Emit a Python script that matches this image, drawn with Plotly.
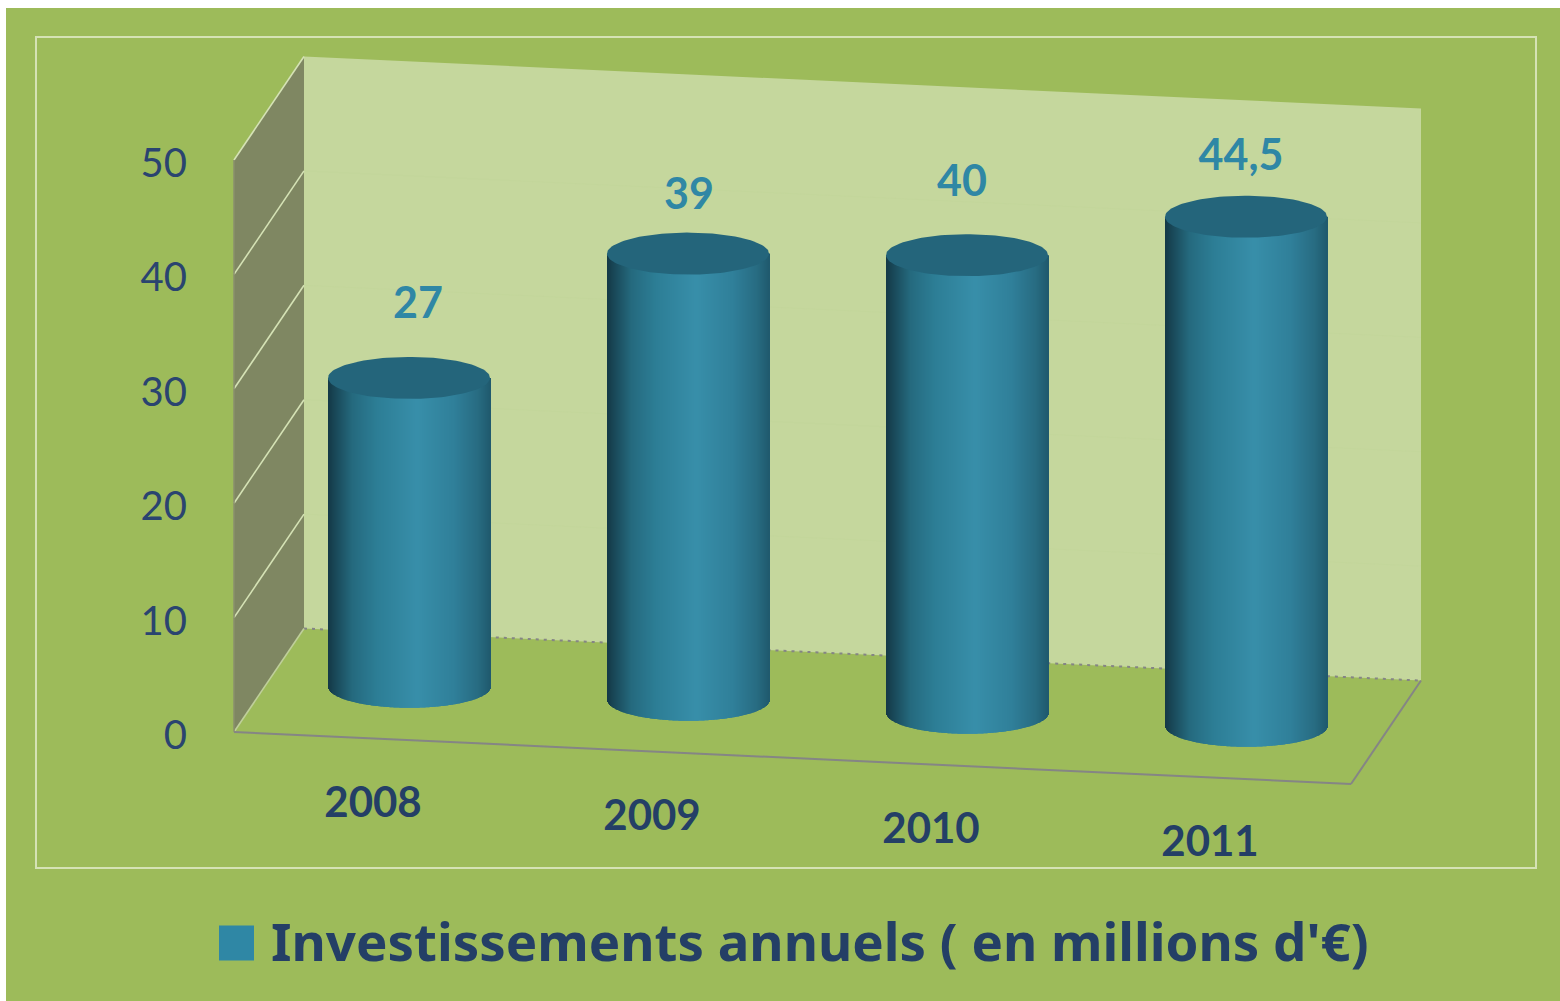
import numpy as np
import plotly.graph_objects as go

# ---- data ----
years = ["2008", "2009", "2010", "2011"]
investments = [27, 39, 40, 44.5]
value_labels = ["27", "39", "40", "44,5"]
axis_ticks = [0, 10, 20, 30, 40, 50]
series_name = "Investissements annuels ( en millions d'€)"

# ---- layout of the fake 3D box (in axis units) ----
W, H = 1560, 1001
PX_X, PX_Y = 279.0, 11.44      # pixels per category, pixels per value unit
X0_PX, Y0_PX = 374.0, 732.0    # pixel of category 0 / value 0
DEPTH_X, DEPTH_Y = 70 / PX_X, 103.5 / PX_Y
TILT = 13.0 / PX_Y             # floor drop per category
LEFT, RIGHT = (234 - X0_PX) / PX_X, (1351 - X0_PX) / PX_X
TOP_V = 50
RX, RY = 81 / PX_X, 21 / PX_Y  # cylinder radii
DEPTH_BAR = 0.5

x_range = [-X0_PX / PX_X, (W - X0_PX) / PX_X]
y_range = [-(H - Y0_PX) / PX_Y, Y0_PX / PX_Y]


def project(c, v, d=0.0):
    """category, value, depth -> plotted axis coordinates"""
    c = np.asarray(c, dtype=float)
    v = np.asarray(v, dtype=float)
    return c + d * DEPTH_X, v - TILT * (c - LEFT) + d * DEPTH_Y


def poly(points):
    xs, ys = zip(*[project(*p) for p in points])
    return [float(a) for a in xs], [float(b) for b in ys]


BG = "#9DBB5A"
WALL = "#C5D79D"
SIDE = "#7F8762"
LIGHT = "#D5E2B5"
GREY = "#858585"
NAVY = "#243F66"
TICK_NAVY = "#2A4470"
TEAL = "#2F87A5"
TOP = "#24657B"

FONT = "Lato"
fig = go.Figure()


def area(points, color):
    x, y = poly(points)
    fig.add_trace(go.Scatter(x=x, y=y, mode="lines", fill="toself", fillcolor=color,
                             line=dict(width=0), hoverinfo="skip", showlegend=False))


def edge(points, color, width=2, dash=None):
    x, y = poly(points)
    fig.add_trace(go.Scatter(x=x, y=y, mode="lines", hoverinfo="skip", showlegend=False,
                             line=dict(color=color, width=width, dash=dash)))


# back wall, side wall
area([(LEFT, 0, 1), (RIGHT, 0, 1), (RIGHT, TOP_V, 1), (LEFT, TOP_V, 1)], WALL)
area([(LEFT, 0, 0), (LEFT, 0, 1), (LEFT, TOP_V, 1), (LEFT, TOP_V, 0)], SIDE)
for t in axis_ticks[1:-1]:
    edge([(LEFT, t, 1), (RIGHT, t, 1)], "#C3D69B", 1)
for t in axis_ticks[1:]:
    edge([(LEFT, t, 0), (LEFT, t, 1)], LIGHT, 1.6)
edge([(LEFT, 0, 1), (RIGHT, 0, 1)], GREY, 2, "3px,5px")
edge([(LEFT, 0, 0), (LEFT, 0, 1)], "#BFCF9A", 1.6)
edge([(RIGHT, 0, 0), (LEFT, 0, 0)], GREY, 2)
edge([(RIGHT, 0, 1), (RIGHT, 0, 0)], GREY, 2)
edge([(LEFT, 0, 0), (LEFT, TOP_V, 0)], "#8A8F6E", 1.5)

# cylinders
N = 162
ts = (np.arange(N) + 0.5) / N * 2 - 1
stops_t = [-1.0, -0.9, -0.7, -0.4, 0.1, 0.55, 0.85, 1.0]
stops_r = [20, 26, 37, 45, 56, 48, 40, 32]
stops_g = [56, 74, 106, 126, 143, 128, 108, 90]
stops_b = [70, 90, 126, 150, 170, 154, 130, 110]
colors = [
    f"rgb({int(np.interp(t, stops_t, stops_r))},{int(np.interp(t, stops_t, stops_g))},{int(np.interp(t, stops_t, stops_b))})"
    for t in ts
]
for i, val in enumerate(investments):
    cx, base = project(i, 0, DEPTH_BAR)
    bottoms = base - RY * np.sqrt(np.clip(1 - ts ** 2, 0, 1))
    fig.add_trace(go.Bar(
        x=cx + ts * RX + 0.3 / PX_X, y=(base + val) - bottoms, base=bottoms,
        width=2 * RX / N * 1.05, marker=dict(color=colors, line=dict(width=0)),
        xaxis="x2", yaxis="y2", hoverinfo="skip", showlegend=False,
    ))
    a = np.linspace(0, 2 * np.pi, 120)
    fig.add_trace(go.Scatter(
        x=cx + RX * np.cos(a), y=base + val + RY * np.sin(a), mode="lines", fill="toself",
        fillcolor=TOP, line=dict(width=0), xaxis="x2", yaxis="y2",
        hoverinfo="skip", showlegend=False,
    ))

# value labels, manually placed above the cylinders as in the original
label_dx = [9, 1, -5, -5]
label_dy = [71, 55.5, 70, 57.5]
for i, val in enumerate(investments):
    cx, base = project(i, 0, DEPTH_BAR)
    fig.add_trace(go.Scatter(
        x=[float(cx) + label_dx[i] / PX_X], y=[float(base) + val + label_dy[i] / PX_Y],
        mode="text", text=[value_labels[i]], textposition="middle center",
        textfont=dict(family=FONT, size=43, color=TEAL, weight=700),
        xaxis="x2", yaxis="y2", hoverinfo="skip", showlegend=False,
    ))

# category labels
LABEL_DROP = 68 / PX_Y
xs, ys = project(np.arange(len(years)), -LABEL_DROP)
fig.add_trace(go.Scatter(
    x=xs - 1 / PX_X, y=ys, mode="text", text=years, textposition="middle center",
    textfont=dict(family=FONT, size=42, color=NAVY, weight=700),
    xaxis="x2", yaxis="y2", hoverinfo="skip", showlegend=False,
))

# legend key and text
LEG_X = (236.5 - X0_PX) / PX_X
LEG_Y = (Y0_PX - 943) / PX_Y
LEG_TEXT_Y = (Y0_PX - 948) / PX_Y
fig.add_trace(go.Scatter(
    x=[LEG_X], y=[LEG_Y], mode="markers",
    marker=dict(symbol="square", size=35, color=TEAL, line=dict(width=0)),
    xaxis="x2", yaxis="y2", hoverinfo="skip", showlegend=False,
))
fig.add_trace(go.Scatter(
    x=[(271 - X0_PX) / PX_X], y=[LEG_TEXT_Y], mode="text", text=[series_name],
    textposition="middle right",
    textfont=dict(family="Noto Sans", size=52.8, color=NAVY, weight=700),
    xaxis="x2", yaxis="y2", hoverinfo="skip", showlegend=False,
))

fig.update_layout(
    width=W, height=H, autosize=False,
    margin=dict(l=0, r=0, t=0, b=0, pad=0),
    paper_bgcolor="white", plot_bgcolor="rgba(0,0,0,0)",
    barmode="overlay", showlegend=False,
    xaxis=dict(range=x_range, visible=False, domain=[0, 1], fixedrange=True),
    yaxis=dict(
        range=y_range, domain=[0, 1], anchor="free", position=234 / W,
        tickmode="array", tickvals=axis_ticks, ticktext=[str(t) for t in axis_ticks],
        showgrid=False, zeroline=False, showline=False,
        ticks="outside", ticklen=39, tickcolor="rgba(0,0,0,0)", ticklabelshift=3,
        tickfont=dict(family=FONT, size=40, color=TICK_NAVY), fixedrange=True,
    ),
    xaxis2=dict(range=x_range, visible=False, overlaying="x", anchor="y2", fixedrange=True),
    yaxis2=dict(range=y_range, visible=False, overlaying="y", anchor="x2", fixedrange=True),
    shapes=[
        dict(type="rect", xref="paper", yref="paper", x0=6 / W, x1=1, y0=0, y1=1 - 8 / H,
             fillcolor=BG, line=dict(width=0), layer="below"),
        dict(type="rect", xref="paper", yref="paper", x0=36 / W, x1=1536 / W,
             y0=1 - 868 / H, y1=1 - 37 / H, fillcolor="rgba(0,0,0,0)",
             line=dict(color=LIGHT, width=2), layer="below"),
    ],
)

fig.write_html("out.html", config=dict(displayModeBar=False),
               post_script="document.body.style.margin='0';document.documentElement.style.overflow='hidden';")
